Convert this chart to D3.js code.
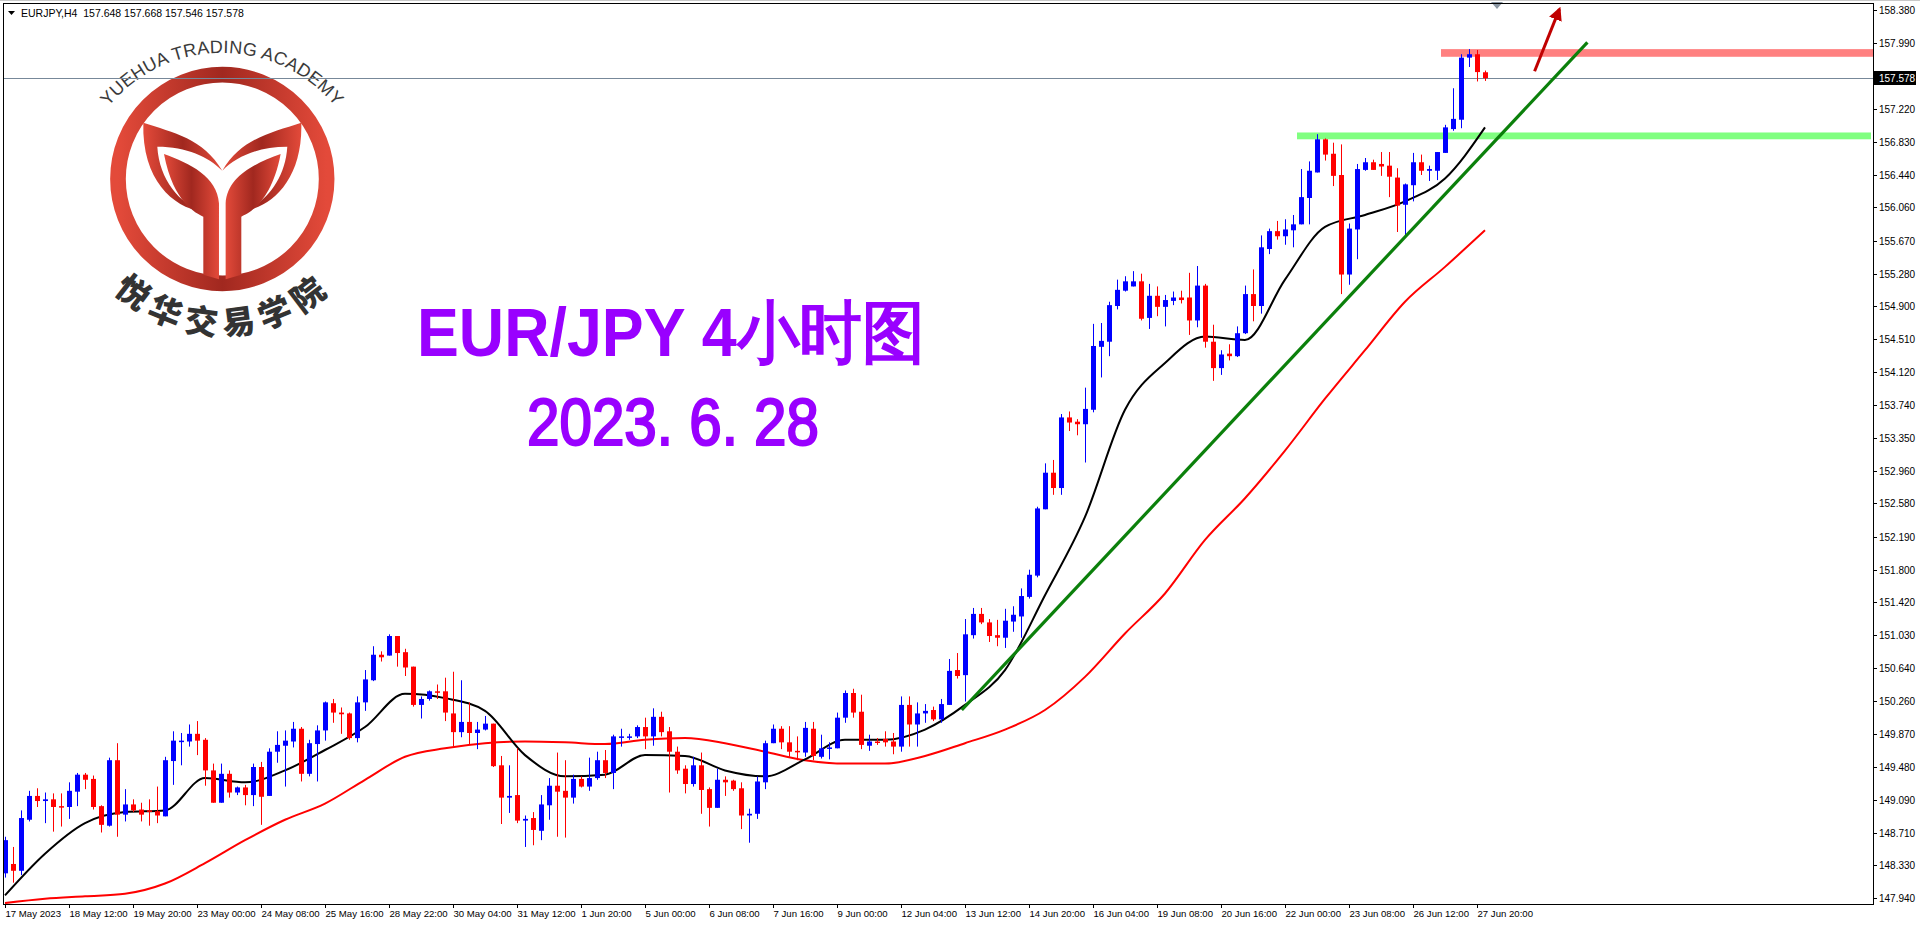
<!DOCTYPE html>
<html><head><meta charset="utf-8">
<script src="https://cdn.jsdelivr.net/npm/d3@7/dist/d3.min.js"></script>
<style>html,body{margin:0;padding:0;background:#fff;overflow:hidden}svg{display:block}</style>
</head><body>
<svg id="c" width="1920" height="927"></svg>
<script>
const opens=[148.23,148.34,148.26,148.86,149.14,149.08,149.10,149.02,149.01,149.19,149.39,149.34,149.02,148.79,149.56,148.92,149.04,148.98,148.97,148.96,148.90,149.55,149.78,149.78,149.87,149.80,149.44,149.06,149.40,149.18,149.24,149.15,149.48,149.14,149.66,149.73,149.78,149.93,149.40,149.75,149.91,150.23,150.12,150.11,149.82,150.24,150.50,150.80,150.79,151.02,150.83,150.66,150.21,150.28,150.37,150.37,150.11,149.89,150.01,149.88,149.92,149.99,149.50,149.12,149.15,148.85,148.88,148.73,149.03,149.26,149.20,149.12,149.34,149.25,149.35,149.56,149.41,149.83,149.84,149.84,149.95,149.84,150.07,149.90,149.66,149.46,149.28,149.50,149.22,149.00,149.33,149.32,149.23,148.91,148.93,149.30,149.76,149.93,149.77,149.67,149.65,149.93,149.60,149.70,149.70,150.06,150.35,150.13,149.73,149.78,149.81,149.78,149.72,150.21,149.98,150.11,150.15,150.04,150.21,150.62,150.56,151.03,151.28,151.18,151.03,151.00,151.19,151.25,151.48,151.73,152.51,152.94,152.76,153.59,153.54,153.51,153.68,154.42,154.48,154.90,155.08,155.13,155.19,154.76,155.02,154.89,154.96,155.00,155.00,154.73,155.14,154.48,154.17,154.34,154.31,154.58,155.04,154.90,155.57,155.78,155.72,155.79,155.86,156.17,156.47,156.86,156.69,156.44,155.27,155.80,156.50,156.59,156.57,156.55,156.41,156.09,156.32,156.59,156.49,156.49,156.70,156.98,157.09,157.82,157.86,157.648];
const highs=[148.66,148.54,148.97,149.20,149.23,149.18,149.17,149.17,149.30,149.41,149.41,149.38,149.03,149.59,149.76,149.22,149.10,149.06,149.10,149.25,149.60,149.90,149.88,149.98,150.02,149.82,149.52,149.52,149.44,149.25,149.27,149.52,149.54,149.70,149.90,149.91,150.01,149.95,149.80,149.97,150.25,150.28,150.18,150.12,150.31,150.62,150.90,150.84,151.04,151.02,150.87,150.66,150.31,150.38,150.45,150.53,150.60,150.50,150.24,150.01,150.08,149.99,149.61,149.50,149.70,148.91,148.95,149.15,149.35,149.65,149.56,149.39,149.37,149.59,149.66,149.68,149.86,149.93,149.87,149.97,150.06,150.17,150.13,149.95,149.72,149.50,149.60,149.65,149.24,149.46,149.37,149.33,149.30,148.99,149.37,149.79,149.98,149.96,149.96,149.84,150.01,150.01,149.86,149.77,150.12,150.38,150.40,150.33,149.86,149.82,149.90,149.88,150.31,150.31,150.24,150.22,150.19,150.28,150.75,150.82,151.22,151.35,151.35,151.22,151.21,151.34,151.37,151.58,151.80,152.54,153.05,153.09,153.63,153.66,153.57,153.94,154.69,154.70,154.95,155.21,155.25,155.31,155.28,155.16,155.13,155.03,155.07,155.08,155.29,155.37,155.16,154.68,154.38,154.45,154.66,155.14,155.33,155.73,155.81,155.90,155.92,155.97,156.51,156.60,156.92,156.87,156.82,156.80,155.87,156.57,156.64,156.62,156.71,156.71,156.52,156.34,156.70,156.68,156.55,156.71,157.03,157.46,157.86,157.92,157.91,157.668];
const lows=[148.18,148.12,148.21,148.84,149.01,148.82,148.72,148.78,148.87,149.02,149.22,148.98,148.71,148.78,148.66,148.84,148.95,148.84,148.79,148.82,148.90,149.27,149.50,149.72,149.62,149.26,149.06,149.06,149.12,149.15,149.03,149.02,148.80,149.14,149.53,149.25,149.71,149.31,149.37,149.31,149.79,150.00,149.87,149.80,149.77,150.14,150.49,150.72,150.79,150.66,150.55,150.19,150.05,150.26,150.28,150.02,149.72,149.83,149.75,149.69,149.91,149.48,148.81,148.94,148.82,148.54,148.56,148.62,148.86,148.66,148.65,149.05,149.24,149.20,149.33,149.35,149.22,149.72,149.80,149.82,149.69,149.73,149.84,149.18,149.40,149.17,149.25,148.93,148.78,149.00,149.14,149.20,148.75,148.59,148.87,149.22,149.76,149.69,149.60,149.56,149.60,149.56,149.58,149.57,149.70,150.00,150.06,149.69,149.67,149.74,149.72,149.63,149.66,149.72,149.72,150.00,150.02,150.00,150.21,150.52,150.25,150.99,151.16,150.95,150.90,150.88,151.07,151.00,151.46,151.71,152.51,152.68,152.68,153.43,153.38,153.06,153.65,154.06,154.31,154.86,155.07,155.13,154.73,154.63,154.78,154.66,154.91,154.93,154.56,154.65,154.41,154.02,154.09,154.26,154.30,154.57,154.72,154.81,155.51,155.68,155.62,155.59,155.86,155.86,156.47,156.61,156.31,155.04,155.15,155.45,156.49,156.50,156.43,156.18,155.77,155.73,156.13,156.44,156.37,156.38,156.70,156.96,156.99,157.71,157.54,157.546];
const closes=[148.62,148.26,148.88,149.14,149.08,149.10,149.01,149.01,149.20,149.39,149.33,149.01,148.80,149.56,148.92,149.04,148.97,148.92,148.96,148.91,149.56,149.79,149.79,149.87,149.79,149.44,149.06,149.40,149.18,149.24,149.15,149.48,149.13,149.66,149.74,149.79,149.93,149.40,149.76,149.91,150.24,150.12,150.10,149.82,150.24,150.51,150.80,150.77,151.02,150.82,150.65,150.21,150.28,150.37,150.36,150.12,149.89,150.01,149.88,149.92,149.99,149.49,149.12,149.14,148.85,148.87,148.74,149.04,149.26,149.19,149.12,149.34,149.25,149.35,149.56,149.41,149.84,149.84,149.84,149.95,149.84,150.07,149.89,149.66,149.44,149.28,149.50,149.21,149.00,149.33,149.30,149.22,148.91,148.93,149.31,149.76,149.93,149.77,149.66,149.66,149.94,149.61,149.70,149.71,150.06,150.35,150.12,149.74,149.78,149.77,149.77,149.72,150.21,149.98,150.11,150.14,150.04,150.22,150.61,150.55,151.04,151.28,151.18,151.02,151.00,151.20,151.27,151.49,151.74,152.52,152.94,152.76,153.59,153.53,153.51,153.69,154.43,154.49,154.91,155.09,155.19,155.19,154.75,155.02,154.89,154.97,155.00,154.97,154.73,155.14,154.48,154.17,154.33,154.31,154.58,155.04,154.90,155.59,155.78,155.72,155.80,155.86,156.18,156.49,156.86,156.68,156.43,155.27,155.81,156.51,156.59,156.50,156.54,156.42,156.08,156.33,156.59,156.49,156.51,156.71,157.00,157.10,157.82,157.86,157.65,157.578];
// moving averages read every 5 bars (bars 0,5,...,185)
const maStep=5;
const maFast=[147.97,148.46,148.82,148.95,148.97,149.35,149.30,149.44,149.68,149.95,150.34,150.29,150.14,149.62,149.37,149.39,149.62,149.61,149.44,149.37,149.57,149.80,149.80,149.92,150.21,150.62,151.50,152.42,153.68,154.23,154.54,154.50,155.21,155.83,155.97,156.13,156.40,157.00];
const maSlow=[147.88,147.93,147.96,147.99,148.11,148.35,148.62,148.86,149.05,149.33,149.60,149.70,149.76,149.78,149.77,149.75,149.80,149.82,149.76,149.66,149.56,149.52,149.52,149.61,149.76,149.92,150.15,150.54,151.05,151.52,152.15,152.64,153.20,153.81,154.38,154.95,155.36,155.79];
const priceTicks=[158.380,157.990,157.220,156.830,156.440,156.060,155.670,155.280,154.900,154.510,154.120,153.740,153.350,152.960,152.580,152.190,151.800,151.420,151.030,150.640,150.260,149.870,149.480,149.090,148.710,148.330,147.940];
const timeLabels=["17 May 2023","18 May 12:00","19 May 20:00","23 May 00:00","24 May 08:00","25 May 16:00","28 May 22:00","30 May 04:00","31 May 12:00","1 Jun 20:00","5 Jun 00:00","6 Jun 08:00","7 Jun 16:00","9 Jun 00:00","12 Jun 04:00","13 Jun 12:00","14 Jun 20:00","16 Jun 04:00","19 Jun 08:00","20 Jun 16:00","22 Jun 00:00","23 Jun 08:00","26 Jun 12:00","27 Jun 20:00"];
const labelEvery=8;
const currentPrice=157.578;
const supportZone=[156.86,156.94], supportFrom=162;
const resistZone=[157.83,157.92], resistFrom=180;
const trendLine=[[119.6,150.15],[197.8,158.00]];
const arrowPts=[[191.2,157.66],[194.3,158.39]];
const header="EURJPY,H4  157.648 157.668 157.546 157.578";
const title1="EUR/JPY 4小时图", title2="2023. 6. 28";

const FONT="Liberation Sans, Arial";
const svg=d3.select("#c");
const L=4,R=1873,T=4,B=904;
const x=d3.scaleLinear().domain([0,185]).range([5,1485]);
const y=d3.scaleLinear().domain([147.94,158.38]).range([898,10]);
const defs=svg.append("defs");
defs.append("clipPath").attr("id","plot").append("rect").attr("x",L).attr("y",T).attr("width",R-L).attr("height",B-T);
defs.append("marker").attr("id","ah").attr("viewBox","0 0 10 10").attr("refX",8).attr("refY",5)
 .attr("markerWidth",4.5).attr("markerHeight",4.5).attr("orient","auto")
 .append("path").attr("d","M0,0L10,5L0,10Z").attr("fill","#c00000");
const g=defs.append("linearGradient").attr("id","lg");
g.append("stop").attr("offset","0%").attr("stop-color","#e34a3a");
g.append("stop").attr("offset","50%").attr("stop-color","#a1281f");
g.append("stop").attr("offset","100%").attr("stop-color","#e34a3a");

svg.append("rect").attr("x",0).attr("y",0).attr("width",1920).attr("height",1).attr("fill","#c8c8c8");

// Logo
const logo=svg.append("g");
const lz=logo.append("g").attr("transform","scale(0.3333)");
lz.append("circle").attr("cx",667).attr("cy",537).attr("r",313).attr("fill","none").attr("stroke","url(#lg)").attr("stroke-width",47);
const leftArm="M430,368 C520,398 610,415 667,512 C625,470 560,440 472,440 C478,540 540,610 605,634 C520,622 425,540 430,368 Z";
const leftLeaf="M492,462 C570,490 652,530 657,610 L657,838 L610,824 L610,650 C590,640 520,610 492,462 Z";
[leftArm,leftLeaf].forEach(d=>{
 lz.append("path").attr("d",d).attr("fill","url(#lg)");
 lz.append("path").attr("d",d).attr("fill","url(#lg)").attr("transform","translate(1334,0) scale(-1,1)");
});
const cxL=222,cyL=200,rT=147;
defs.append("path").attr("id","arcTop").attr("d",`M${cxL-rT},${cyL} A${rT},${rT} 0 0 1 ${cxL+rT},${cyL}`);
logo.append("text").attr("font-family",FONT).attr("font-size",18).attr("fill","#3a3a3a").attr("letter-spacing",0.3)
 .append("textPath").attr("href","#arcTop").attr("startOffset","50%").attr("text-anchor","middle").text("YUEHUA TRADING ACADEMY");
const cxB=222,cyB=179,rB=142;
defs.append("path").attr("id","arcBot").attr("d",`M${cxB-rB},${cyB} A${rB},${rB} 0 0 0 ${cxB+rB},${cyB}`);
logo.append("text").attr("font-family","Noto Sans CJK SC").attr("font-weight",900).attr("font-size",33).attr("fill","#333").attr("dominant-baseline","central").attr("letter-spacing",4)
 .append("textPath").attr("href","#arcBot").attr("startOffset","50%").attr("text-anchor","middle").text("悦华交易学院");

// titles
svg.append("text").attr("x",417).attr("y",356).attr("font-family",FONT).attr("font-weight","bold").attr("font-size",68).attr("fill","#9900ff").attr("textLength",508).attr("lengthAdjust","spacingAndGlyphs").text(title1);
svg.append("text").attr("x",527).attr("y",445).attr("font-family",FONT).attr("font-size",66).attr("fill","#9900ff").attr("textLength",292).attr("lengthAdjust","spacingAndGlyphs").attr("stroke","#9900ff").attr("stroke-width",2.2).text(title2);

const plot=svg.append("g").attr("clip-path","url(#plot)");
plot.append("line").attr("x1",L).attr("x2",R).attr("y1",Math.round(y(currentPrice))+0.5).attr("y2",Math.round(y(currentPrice))+0.5).attr("stroke","#778899").attr("stroke-width",1);
plot.append("rect").attr("x",x(supportFrom)-4).attr("width",R-2-x(supportFrom)+4).attr("y",y(supportZone[1])).attr("height",y(supportZone[0])-y(supportZone[1])).attr("fill","#80ff80");
plot.append("rect").attr("x",x(resistFrom)-4).attr("width",R+3-x(resistFrom)+4).attr("y",y(resistZone[1])).attr("height",y(resistZone[0])-y(resistZone[1])).attr("fill","#ff8080");
const line=d3.line().x((d,i)=>x(i*maStep)).y(d=>y(d)).curve(d3.curveMonotoneX);
plot.append("path").attr("d",line(maSlow)).attr("fill","none").attr("stroke","#ff0000").attr("stroke-width",2);
plot.append("path").attr("d",line(maFast)).attr("fill","none").attr("stroke","#000").attr("stroke-width",2);
const idx=d3.range(closes.length);
const col=i=>closes[i]>=opens[i]?"#0000ff":"#ff0000";
plot.selectAll("line.w").data(idx).join("line").attr("x1",i=>Math.round(x(i))+0.5).attr("x2",i=>Math.round(x(i))+0.5)
 .attr("y1",i=>y(highs[i])).attr("y2",i=>y(lows[i])).attr("stroke",col).attr("stroke-width",1);
plot.selectAll("rect.b").data(idx).join("rect").attr("x",i=>Math.round(x(i))-2).attr("width",5)
 .attr("y",i=>y(Math.max(opens[i],closes[i]))).attr("height",i=>Math.max(1.5,Math.abs(y(opens[i])-y(closes[i])))).attr("fill",col);
plot.append("line").attr("x1",x(trendLine[0][0])).attr("y1",y(trendLine[0][1])).attr("x2",x(trendLine[1][0])).attr("y2",y(trendLine[1][1])).attr("stroke","#0b800b").attr("stroke-width",3.2);
svg.append("line").attr("x1",x(arrowPts[0][0])).attr("y1",y(arrowPts[0][1])).attr("x2",x(arrowPts[1][0])).attr("y2",y(arrowPts[1][1])).attr("stroke","#c00000").attr("stroke-width",3).attr("marker-end","url(#ah)");
svg.append("path").attr("d","M1491,2 L1503,2 L1497,9 Z").attr("fill","#8a96a2");

svg.append("rect").attr("x",L-0.5).attr("y",T-0.5).attr("width",R-L+1).attr("height",B-T+1).attr("fill","none").attr("stroke","#000");
svg.append("path").attr("d","M8,11 L15,11 L11.5,15 Z").attr("fill","#000");
svg.append("text").attr("x",21).attr("y",16.5).attr("font-family",FONT).attr("font-size",10.5).attr("fill","#000").style("white-space","pre").text(header);

const ya=svg.append("g");
priceTicks.forEach(p=>{
 const yy=Math.round(y(p))+0.5;
 ya.append("line").attr("x1",R).attr("x2",R+4).attr("y1",yy).attr("y2",yy).attr("stroke","#000");
 ya.append("text").attr("x",R+6).attr("y",yy+3.5).attr("font-family",FONT).attr("font-size",10).attr("fill","#000").text(p.toFixed(3));
});
const cy=Math.round(y(currentPrice));
ya.append("rect").attr("x",R+1).attr("y",cy-7).attr("width",42).attr("height",14).attr("fill","#000");
ya.append("text").attr("x",R+6).attr("y",cy+4).attr("font-family",FONT).attr("font-size",10).attr("fill","#fff").text(currentPrice.toFixed(3));

const xa=svg.append("g");
timeLabels.forEach((t,k)=>{
 const xx=Math.round(x(k*labelEvery))+0.5;
 xa.append("line").attr("x1",xx).attr("x2",xx).attr("y1",B).attr("y2",B+4).attr("stroke","#000");
 xa.append("text").attr("x",xx).attr("y",917).attr("font-family",FONT).attr("font-size",9.6).attr("fill","#000").text(t);
});
</script>
</body></html>
